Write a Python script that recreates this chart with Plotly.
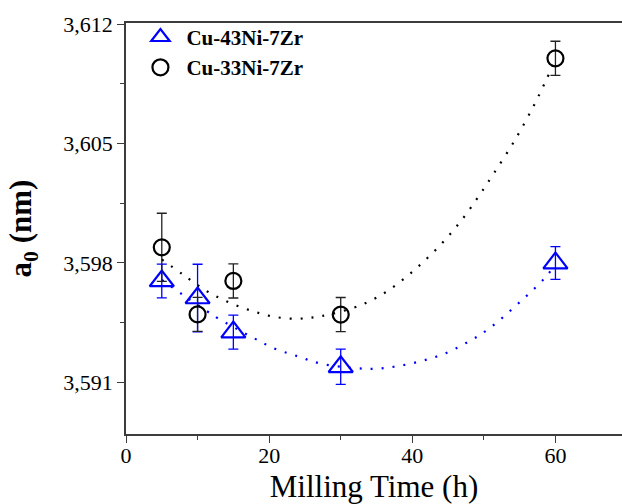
import plotly.graph_objects as go

# Data
milling_time = [5, 10, 15, 30, 60]

a0_43Ni = [3.59694, 3.59594, 3.59394, 3.59191, 3.59799]
err_43Ni = [0.00099, 0.00198, 0.00100, 0.00103, 0.00096]

a0_33Ni = [3.59891, 3.59498, 3.59694, 3.59497, 3.60999]
err_33Ni = [0.00200, 0.00100, 0.00100, 0.00100, 0.00100]

# Trend curves
fit_43Ni_x = [5, 8.18, 11.3, 12.94, 17.73, 20.81, 24.03, 27.16, 31.72, 35.0, 38.15,
              41.29, 44.41, 47.58, 50.7, 55.4, 58.53, 60]
fit_43Ni_y = [3.5970, 3.59606, 3.59517, 3.59473, 3.59362, 3.59297, 3.59252, 3.5921,
              3.59184, 3.5918, 3.59196, 3.59225, 3.59266, 3.59332, 3.59414, 3.59585,
              3.59712, 3.5979]

fit_33Ni_x = [5, 8.08, 11.3, 14.48, 17.73, 20.81, 24.03, 27.16, 31.72, 35.0, 38.15,
              41.29, 44.41, 47.06, 49.3, 51.4, 54.38, 56.99, 58.53, 60]
fit_33Ni_y = [3.5982, 3.59728, 3.59634, 3.59567, 3.59517, 3.59483, 3.59473, 3.59487,
              3.59536, 3.59596, 3.59684, 3.59796, 3.59927, 3.6006, 3.60192, 3.60325,
              3.60523, 3.60723, 3.60856, 3.6099]

BLUE = "#0000ff"
BLACK = "#000000"
SERIF = "Liberation Serif"

fig = go.Figure()

fig.add_trace(go.Scatter(x=fit_43Ni_x, y=fit_43Ni_y, mode="lines",
                         line=dict(color=BLUE, width=2.2, dash="2px,9px", shape="spline"),
                         showlegend=False, hoverinfo="skip"))
fig.add_trace(go.Scatter(x=fit_33Ni_x, y=fit_33Ni_y, mode="lines",
                         line=dict(color=BLACK, width=2.2, dash="2px,9px", shape="spline"),
                         showlegend=False, hoverinfo="skip"))

fig.add_trace(go.Scatter(x=milling_time, y=a0_43Ni, mode="markers", name="Cu-43Ni-7Zr",
                         marker=dict(symbol="triangle-up-open", size=21, color=BLUE,
                                     line=dict(width=2.2, color=BLUE)),
                         error_y=dict(type="data", array=err_43Ni, color=BLUE,
                                      thickness=1.3, width=5)))
fig.add_trace(go.Scatter(x=milling_time, y=a0_33Ni, mode="markers", name="Cu-33Ni-7Zr",
                         marker=dict(symbol="circle-open", size=16, color=BLACK,
                                     line=dict(width=2.2, color=BLACK)),
                         error_y=dict(type="data", array=err_33Ni, color="#222222",
                                      thickness=1.3, width=5)))

axis_col = "#3c3c3c"
fig.update_layout(
    template="none",
    width=622, height=504,
    margin=dict(l=126, r=0, t=23, b=70, autoexpand=False),
    paper_bgcolor="white", plot_bgcolor="white",
    separators=",.",
    font=dict(family=SERIF, color="black", size=22),
    showlegend=True,
    legend=dict(x=0.017, y=1.015, xanchor="left", yanchor="top", itemwidth=42,
                bgcolor="rgba(0,0,0,0)", tracegroupgap=0,
                font=dict(family=SERIF, size=21, color="black", weight="bold")),
    xaxis=dict(range=[0, 69.3], tick0=0, dtick=20, ticks="outside", ticklen=7,
               tickwidth=1.3, tickcolor=axis_col, showline=True, linecolor=axis_col,
               linewidth=1.5, mirror=True, showgrid=False, zeroline=False,
               minor=dict(dtick=10, ticks="outside", ticklen=4, tickcolor=axis_col,
                          tickwidth=1.3, showgrid=False),
               tickfont=dict(family=SERIF, size=22), ticklabelstandoff=-6,
               title=dict(text="Milling Time (h)", font=dict(family=SERIF, size=31),
                          standoff=10)),
    yaxis=dict(range=[3.58797, 3.61206], tick0=3.591, dtick=0.007, tickformat=".3f",
               ticks="outside", ticklen=7, tickwidth=1.3, tickcolor=axis_col,
               showline=True, linecolor=axis_col, linewidth=1.5, mirror=False,
               showgrid=False, zeroline=False,
               minor=dict(dtick=0.0035, tick0=3.591, ticks="outside", ticklen=4,
                          tickcolor=axis_col, tickwidth=1.3, showgrid=False),
               tickfont=dict(family=SERIF, size=22),
               title=dict(text="<b>a<sub>0</sub> (nm)</b>",
                          font=dict(family=SERIF, size=31), standoff=22)),
)

fig.write_html("out.html", config={"displayModeBar": False},
               post_script="document.body.style.margin='0';document.body.style.padding='0';"
                           "document.body.style.overflow='hidden';"
                           "document.documentElement.style.overflow='hidden';"
                           "document.querySelectorAll('.ewdrag,.nsdrag,.nsewdrag,.nwdrag,.nedrag,.swdrag,.sedrag,.wdrag,.edrag,.ndrag,.sdrag')"
                           ".forEach(function(e){e.style.display='none';});")
